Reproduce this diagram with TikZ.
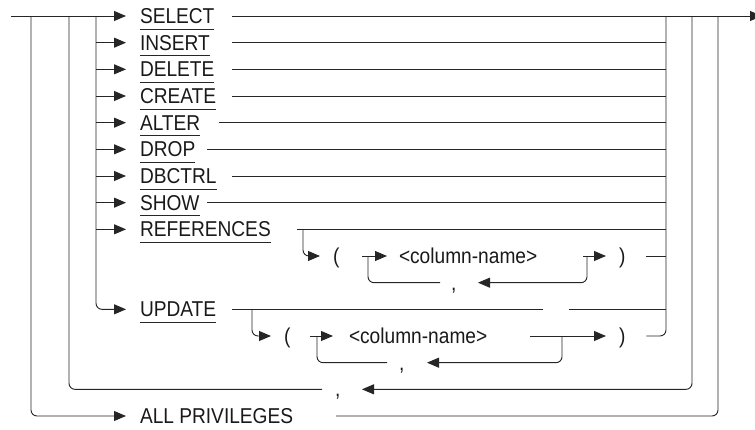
\documentclass[tikz,border=0pt]{standalone}
\usepackage{fontspec}
\setmainfont{Liberation Sans}[FakeStretch=0.89]
\usetikzlibrary{arrows.meta}
\begin{document}
\begin{tikzpicture}[x=1pt,y=-1pt,line width=0.95pt,draw=black!85,
  every node/.style={inner sep=0pt,outer sep=0pt,text height=15pt,text depth=0pt,
    font=\fontsize{21.5}{21.5}\selectfont,text=black!90},
  kw/.style={anchor=west},
  arr/.style={-{Triangle[length=12pt,width=10pt]}},
  rc/.style={rounded corners=6pt}]
\path[use as bounding box] (0,0) rectangle (755,429);
\clip (0,0) rectangle (755,429);
% junction coordinates
\coordinate (st) at (11,16);
\coordinate (A) at (31,16);
\coordinate (B) at (69,16);
\coordinate (C) at (96,16);
\coordinate (P) at (666,16);
\coordinate (Q) at (692,16);
\coordinate (R) at (718,16);
\coordinate (en) at (762,16);
% keywords
\node[kw] (sel) at (140,16) {SELECT};
\node[kw] (ins) at (140,42.67) {INSERT};
\node[kw] (del) at (140,69.33) {DELETE};
\node[kw] (cre) at (140,96) {CREATE};
\node[kw] (alt) at (140,122.67) {ALTER};
\node[kw] (drp) at (140,149.33) {DROP};
\node[kw] (dbc) at (140,176) {DBCTRL};
\node[kw] (shw) at (140,202.67) {SHOW};
\node[kw] (ref) at (140,229.33) {REFERENCES};
\node[kw] (upd) at (140,309.33) {UPDATE};
\node[kw] (all) at (140,416) {ALL PRIVILEGES};
% sub-items
\node[kw] (lp1) at (333,256) {(};
\node[kw] (cn1) at (399,256) {<column-name>};
\node[kw] (rp1) at (619,256) {)};
\node[kw] (cm1) at (451,282.67) {,};
\node[kw] (lp2) at (284,336) {(};
\node[kw] (cn2) at (349,336) {<column-name>};
\node[kw] (rp2) at (619,336) {)};
\node[kw] (cm2) at (399,362.67) {,};
\node[kw] (cm3) at (335,389.33) {,};
% underlines
\foreach \n in {sel,ins,del,cre,alt,drp,dbc,shw,ref,upd}
  \draw ([yshift=-5.5pt]\n.south west) -- ([yshift=-5.5pt]\n.south east);
% main line
\draw[arr] (st) -- ([xshift=-14pt]sel.west);
\draw[arr] ([xshift=92pt]sel.west) -- (en);
% branch arrows from C
\foreach \n in {ins,del,cre,alt,drp,dbc,shw,ref}
  \draw[arr] (\n.west -| C) -- ([xshift=-14pt]\n.west);
\draw[arr,rc] (C) |- ([xshift=-14pt]upd.west);
% right ends of rows
\foreach \n/\g in {ins/92,del/92,cre/92,alt/79,drp/67,dbc/92,shw/67,ref/157}
  \draw ([xshift=\g pt]\n.west) -- (\n.west -| P);
\draw[rc] ([xshift=21pt]rp2.east) -| (P);
% REFERENCES sub-diagram
\draw[arr,rc] ([xshift=163pt]ref.west) |- ([xshift=-13pt]lp1.west);
\draw[arr] ([xshift=-37pt]cn1.west) -- ([xshift=-12pt]cn1.west);
\draw[rc] ([xshift=-31pt]cn1.west) |- ([xshift=-11pt]cm1.west);
\draw[arr] ([xshift=184pt]cn1.west) -- ([xshift=-13pt]rp1.west);
\draw[arr,rc] ([xshift=188pt]cn1.west) |- ([xshift=27pt]cm1.west);
\draw ([xshift=21pt]rp1.east) -- (rp1.east -| P);
% UPDATE sub-diagram
\draw ([xshift=92pt]upd.west) -- ([xshift=403pt]upd.west);
\draw ([xshift=429pt]upd.west) -- (upd.west -| P);
\draw[arr,rc] ([xshift=112pt]upd.west) |- ([xshift=-13pt]lp2.west);
\draw[arr] ([xshift=-39pt]cn2.west) -- ([xshift=-16pt]cn2.west);
\draw[rc] ([xshift=-32pt]cn2.west) |- ([xshift=-12pt]cm2.west);
\draw[arr] ([xshift=181pt]cn2.west) -- ([xshift=-13pt]rp2.west);
\draw[arr,rc] ([xshift=213pt]cn2.west) |- ([xshift=28pt]cm2.west);
% repeat loop
\draw[rc] ([xshift=-13pt]cm3.west) -| (B);
\draw[arr,rc] (Q) |- ([xshift=27pt]cm3.west);
% ALL PRIVILEGES
\draw[arr,rc] (A) |- ([xshift=-14pt]all.west);
\draw[rc] ([xshift=196pt]all.west) -| (R);
\end{tikzpicture}
\end{document}
